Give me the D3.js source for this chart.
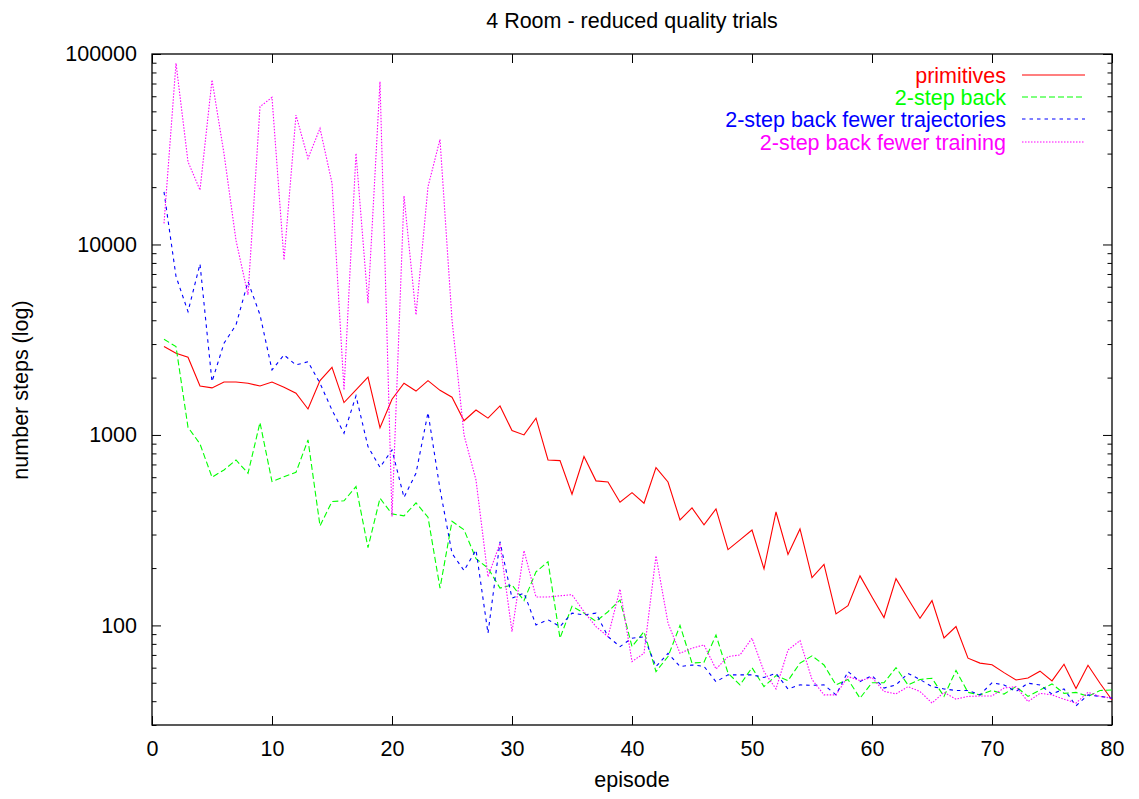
<!DOCTYPE html>
<html>
<head>
<meta charset="utf-8">
<script src="https://cdn.jsdelivr.net/npm/d3@7"></script>
<style>
  html, body { margin: 0; padding: 0; background: #fff; }
  svg { display: block; }
  text { font-family: "Liberation Sans", Arial, Helvetica, sans-serif; }
</style>
</head>
<body>
<svg id="chart" width="1139" height="799"></svg>
<script>
// ---- data ----
const title = "4 Room - reduced quality trials";
const xLabel = "episode";
const yLabel = "number steps (log)";
const xTicks = [0, 10, 20, 30, 40, 50, 60, 70, 80];
const yTicks = [100, 1000, 10000, 100000];
const seriesNames = ["primitives", "2-step back", "2-step back fewer trajectories", "2-step back fewer training"];

const primitives = [2910, 2685, 2560, 1807, 1766, 1897, 1897, 1867, 1807, 1897,
  1780, 1655, 1368, 1928, 2265, 1479, 1722, 2009, 1092, 1540,
  1867, 1700, 1928, 1715, 1578, 1187, 1352, 1225, 1420, 1054,
  1000, 1225, 739, 733, 488, 770, 574, 566, 443, 498,
  438, 673, 566, 358, 414, 337, 409, 250, 281, 317,
  198, 394, 236, 321, 178, 209, 115, 127, 182, 141,
  110, 176, 138, 109, 135, 86, 98.6, 67.3, 63.4, 62.1,
  56.5, 51.7, 53, 57.5, 51.1, 62.5, 46.6, 61.8, 49.7, 40.6];

const twoStepBack = [3180, 2910, 1097, 897, 600, 655, 739, 629, 1161, 569,
  604, 637, 942, 333, 447, 451, 536, 256, 465, 385,
  376, 440, 370, 157, 352, 318, 224, 200, 157, 163,
  135, 191, 216, 85.7, 126, 116, 105, 118, 136, 77.4,
  92.7, 57.2, 68.6, 100, 63.4, 64, 89, 56.2, 48.7, 60,
  47.7, 54.5, 51.3, 63.4, 69.2, 62, 48.7, 52, 41.5, 50,
  50, 60, 48.7, 52, 52.8, 42.4, 58, 44.5, 43.2, 45.5,
  43.6, 47.7, 42.4, 45.8, 49.3, 44, 44.5, 42.4, 45.5, 45.8];

const fewerTrajectories = [18900, 6800, 4440, 7900, 1905, 3030, 3780, 6380, 4270, 2195,
  2630, 2330, 2425, 1867, 1352, 1021, 1603, 868, 676, 834,
  470, 629, 1311, 520, 239, 194, 249, 91, 275, 139,
  148, 100.6, 107, 98.6, 116, 113.5, 116, 87.3, 77.4, 85.7,
  87, 60.8, 71.4, 60.8, 62, 61, 50.6, 55, 55, 55,
  53.3, 56, 46.4, 48.7, 48.5, 48.7, 43.2, 57.2, 50.7, 54.5,
  46.9, 48.7, 56, 52, 47.7, 46.4, 45.5, 45.5, 43.2, 50,
  48.7, 45, 49.7, 48.7, 43.6, 46.4, 37.8, 43.2, 42.4, 41.5];

const fewerTraining = [12900, 89400, 27200, 19300, 73100, 30000, 10500, 5430, 52900, 59200,
  8290, 47800, 28300, 40700, 21000, 1722, 30100, 4910, 71600, 373,
  18000, 4270, 20100, 35600, 4020, 1000, 580, 180, 270, 92.7,
  247, 141, 141, 143, 145, 118, 98.6, 87.3, 155, 64.6,
  71.4, 232, 103, 71.4, 75.9, 79, 59, 68.6, 70, 85.7,
  57.2, 46.4, 74.3, 83.2, 52, 43.2, 43.2, 53.9, 51.3, 53.3,
  45, 43.7, 47.7, 45, 39.1, 44.5, 41, 42.4, 42.6, 42.6,
  46.9, 47.7, 39.8, 44, 43.2, 41, 39.1, 44.5, 42.4, 41.5];

// ---- layout / style ----
const W = 1139, H = 799;
const L = 152, R = 1112, T = 54, B = 725;
const FS = 21.5;
const styles = [
  { color: "#ff0000", dash: "none" },
  { color: "#00ff00", dash: "6,3" },
  { color: "#0000ff", dash: "3.5,4" },
  { color: "#ff00ff", dash: "1.5,1.5" }
];
const allSeries = [primitives, twoStepBack, fewerTrajectories, fewerTraining];

const svg = d3.select("#chart");
const x = d3.scaleLinear().domain([0, 80]).range([L, R]);
const y = d3.scaleLog().domain([30, 100000]).range([B, T]);

// minor ticks for log axis
const minorY = [];
for (let d = 10; d <= 100000; d *= 10) {
  for (let m = 1; m <= 9; m++) {
    const v = d * m;
    if (v >= 30 && v <= 100000 && !yTicks.includes(v)) minorY.push(v);
  }
}

const fmt = d3.format("d");
function styleAxis(g) {
  g.select(".domain").remove();
  g.selectAll(".tick line").style("stroke", "#000").style("stroke-width", "1px");
  g.selectAll("text").style("fill", "#000").style("font-size", FS + "px")
    .style("font-family", '"Liberation Sans", Arial, sans-serif');
}

// bottom axis
svg.append("g").attr("transform", `translate(0,${B})`)
  .call(d3.axisBottom(x).tickValues(xTicks).tickFormat(fmt).tickSize(-9).tickPadding(16))
  .call(styleAxis);
// top axis (mirror, no labels)
svg.append("g").attr("transform", `translate(0,${T})`)
  .call(d3.axisTop(x).tickValues(xTicks).tickFormat("").tickSize(-9))
  .call(styleAxis);
// left axis
svg.append("g").attr("transform", `translate(${L},0)`)
  .call(d3.axisLeft(y).tickValues(yTicks).tickFormat(fmt).tickSize(-9).tickPadding(15))
  .call(styleAxis);
svg.append("g").attr("transform", `translate(${L},0)`)
  .call(d3.axisLeft(y).tickValues(minorY).tickFormat("").tickSize(-4.5))
  .call(styleAxis);
// right axis
svg.append("g").attr("transform", `translate(${R},0)`)
  .call(d3.axisRight(y).tickValues(yTicks).tickFormat("").tickSize(-9))
  .call(styleAxis);
svg.append("g").attr("transform", `translate(${R},0)`)
  .call(d3.axisRight(y).tickValues(minorY).tickFormat("").tickSize(-4.5))
  .call(styleAxis);

// frame
svg.append("rect").attr("x", L).attr("y", T).attr("width", R - L).attr("height", B - T)
  .style("fill", "none").style("stroke", "#000").style("stroke-width", "1.3px");

// lines
const lineGen = d3.line().x((d, i) => x(i + 1)).y(d => y(d));
allSeries.forEach((s, k) => {
  svg.append("path").datum(s)
    .attr("d", lineGen)
    .style("fill", "none")
    .style("stroke", styles[k].color)
    .style("stroke-width", "1.1px")
    .style("stroke-dasharray", styles[k].dash);
});

// legend
const legRows = [75, 97, 119, 142];
seriesNames.forEach((name, k) => {
  svg.append("text").attr("x", 1006).attr("y", legRows[k] + 7.5)
    .attr("text-anchor", "end").style("fill", styles[k].color)
    .style("font-size", FS + "px").text(name);
  svg.append("path")
    .attr("d", `M1022,${legRows[k]}H1085`)
    .style("fill", "none")
    .style("stroke", styles[k].color)
    .style("stroke-width", "1.2px")
    .style("stroke-dasharray", styles[k].dash);
});

// title and axis labels
svg.append("text").attr("x", 632).attr("y", 28).attr("text-anchor", "middle")
  .style("font-size", FS + "px").style("fill", "#000").text(title);
svg.append("text").attr("x", 632).attr("y", 787).attr("text-anchor", "middle")
  .style("font-size", FS + "px").style("fill", "#000").text(xLabel);
svg.append("text").attr("transform", `translate(28,390) rotate(-90)`).attr("text-anchor", "middle")
  .style("font-size", FS + "px").style("fill", "#000").text(yLabel);
</script>
</body>
</html>
